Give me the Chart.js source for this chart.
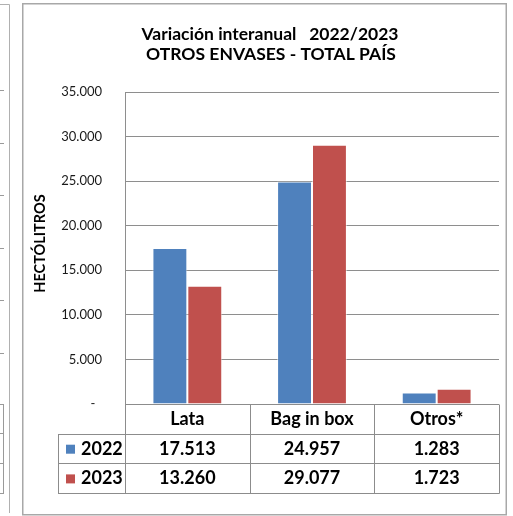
<!DOCTYPE html>
<html>
<head>
<meta charset="utf-8">
<script src="https://cdn.jsdelivr.net/npm/chart.js@4/dist/chart.umd.min.js"></script>
<style>
  html, body { margin: 0; padding: 0; background: #ffffff; }
  canvas { display: block; }
</style>
</head>
<body>
<canvas id="c" width="513" height="516"></canvas>
<script>
// ---- data ----
const categories = ['Lata', 'Bag in box', 'Otros*'];
const seriesNames = ['2022', '2023'];
const values2022 = [17513, 24957, 1283];
const values2023 = [13260, 29077, 1723];
const yMin = 0;
const yMax = 35000;
const yStep = 5000;
const titleLines = ['Variación interanual   2022/2023', 'OTROS ENVASES - TOTAL PAÍS'];
const yTitle = 'HECTÓLITROS';

const colors = ['#4F81BD', '#C0504D'];
const FONT = 'Lato, "Open Sans", sans-serif';

function fmt(v) {
  if (v === 0) return '-  ';
  return String(Math.round(v)).replace(/\B(?=(\d{3})+(?!\d))/g, '.');
}

const decorPlugin = {
  id: 'decor',
  beforeDraw(chart) {
    const ctx = chart.ctx;
    ctx.save();
    ctx.fillStyle = '#ffffff';
    ctx.fillRect(0, 0, chart.width, chart.height);
    ctx.restore();
  },
  afterDraw(chart) {
    const ctx = chart.ctx;
    const xs = chart.scales.x;
    const area = chart.chartArea;
    ctx.save();

    // partial neighbouring panel at the left edge
    ctx.strokeStyle = '#b0b0b0';
    ctx.lineWidth = 1;
    ctx.beginPath();
    ctx.moveTo(0, 4.5); ctx.lineTo(9.5, 4.5); ctx.lineTo(9.5, 513);
    ctx.stroke();
    ctx.strokeStyle = '#9a9a9a';
    ctx.beginPath();
    [90, 142.5, 195, 247.5, 300, 352.5].forEach(yy => {
      const p = Math.round(yy) + 0.5;
      ctx.moveTo(0, p); ctx.lineTo(4, p);
    });
    [404, 433, 463, 493].forEach(yy => {
      ctx.moveTo(0, yy + 0.5); ctx.lineTo(4, yy + 0.5);
    });
    ctx.moveTo(3.5, 404.5); ctx.lineTo(3.5, 493.5);
    ctx.stroke();

    // main frame
    ctx.strokeStyle = '#a8a8a8';
    ctx.lineWidth = 1.5;
    ctx.strokeRect(22.75, 3.75, 483.5, 511);

    // title
    ctx.fillStyle = '#000000';
    ctx.font = 'bold 17.5px ' + FONT;
    ctx.textAlign = 'center';
    ctx.textBaseline = 'alphabetic';
    ctx.fillText(titleLines[0], 270, 39.5);
    ctx.fillText(titleLines[1], 271, 59.5);

    // y axis title
    ctx.save();
    ctx.translate(45, 243.5);
    ctx.rotate(-Math.PI / 2);
    ctx.font = 'bold 14.5px ' + FONT;
    ctx.textAlign = 'center';
    ctx.fillText(yTitle, 0, 0);
    ctx.restore();

    // data table
    const half = (xs.getPixelForValue(1) - xs.getPixelForValue(0)) / 2;
    const colEdges = [];
    for (let i = 0; i < categories.length; i++) colEdges.push(xs.getPixelForValue(i) - half);
    colEdges.push(xs.getPixelForValue(categories.length - 1) + half);
    const top = area.bottom;
    const rowH = 29.7;
    const rows = [top, top + rowH, top + 2 * rowH, top + 3 * rowH];
    const legendLeft = 58;
    const px = v => Math.round(v) + 0.5;

    ctx.strokeStyle = '#8c8c8c';
    ctx.lineWidth = 1;
    ctx.beginPath();
    ctx.moveTo(colEdges[0], px(rows[0])); ctx.lineTo(colEdges[colEdges.length - 1], px(rows[0]));
    for (let r = 1; r < rows.length; r++) {
      ctx.moveTo(legendLeft, px(rows[r])); ctx.lineTo(px(colEdges[colEdges.length - 1]), px(rows[r]));
    }
    colEdges.forEach(e => { ctx.moveTo(px(e), px(rows[0])); ctx.lineTo(px(e), px(rows[3])); });
    ctx.moveTo(px(legendLeft), px(rows[1])); ctx.lineTo(px(legendLeft), px(rows[3]));
    ctx.stroke();

    ctx.fillStyle = '#000000';
    ctx.font = 'bold 18px ' + FONT;
    ctx.textAlign = 'center';
    categories.forEach((c, i) => {
      ctx.fillText(c, xs.getPixelForValue(i), rows[0] + 21);
    });
    const series = [values2022, values2023];
    series.forEach((vals, s) => {
      const base = rows[s + 1] + 21;
      vals.forEach((v, i) => {
        ctx.fillText(fmt(v), xs.getPixelForValue(i), base);
      });
      ctx.fillStyle = colors[s];
      ctx.fillRect(66, rows[s + 1] + 11, 9, 9);
      ctx.fillStyle = '#000000';
      ctx.textAlign = 'left';
      ctx.fillText(seriesNames[s], 81, base);
      ctx.textAlign = 'center';
    });

    ctx.restore();
  }
};

const chart = new Chart(document.getElementById('c'), {
  type: 'bar',
  data: {
    labels: categories,
    datasets: [
      { label: seriesNames[0], data: values2022, backgroundColor: colors[0],
        borderColor: 'rgba(255,255,255,0.55)', borderWidth: 1 },
      { label: seriesNames[1], data: values2023, backgroundColor: colors[1],
        borderColor: 'rgba(255,255,255,0.55)', borderWidth: 1 }
    ]
  },
  options: {
    responsive: false,
    devicePixelRatio: 1,
    animation: false,
    layout: { padding: { left: 0, top: 92, right: 14, bottom: 112 } },
    datasets: { bar: { barPercentage: 1, categoryPercentage: 0.56 } },
    plugins: {
      legend: { display: false },
      title: { display: false },
      tooltip: { enabled: false }
    },
    scales: {
      x: { display: false },
      y: {
        min: yMin, max: yMax,
        afterFit(scale) { scale.width = 125; },
        ticks: {
          stepSize: yStep,
          padding: 23,
          color: '#1a1a1a',
          font: { family: FONT, size: 13 },
          callback: v => fmt(v)
        },
        grid: { color: '#8e8e8e', lineWidth: 1, drawTicks: false },
        border: { display: true, color: '#8e8e8e', width: 1 }
      }
    }
  },
  plugins: [decorPlugin]
});
</script>
</body>
</html>
